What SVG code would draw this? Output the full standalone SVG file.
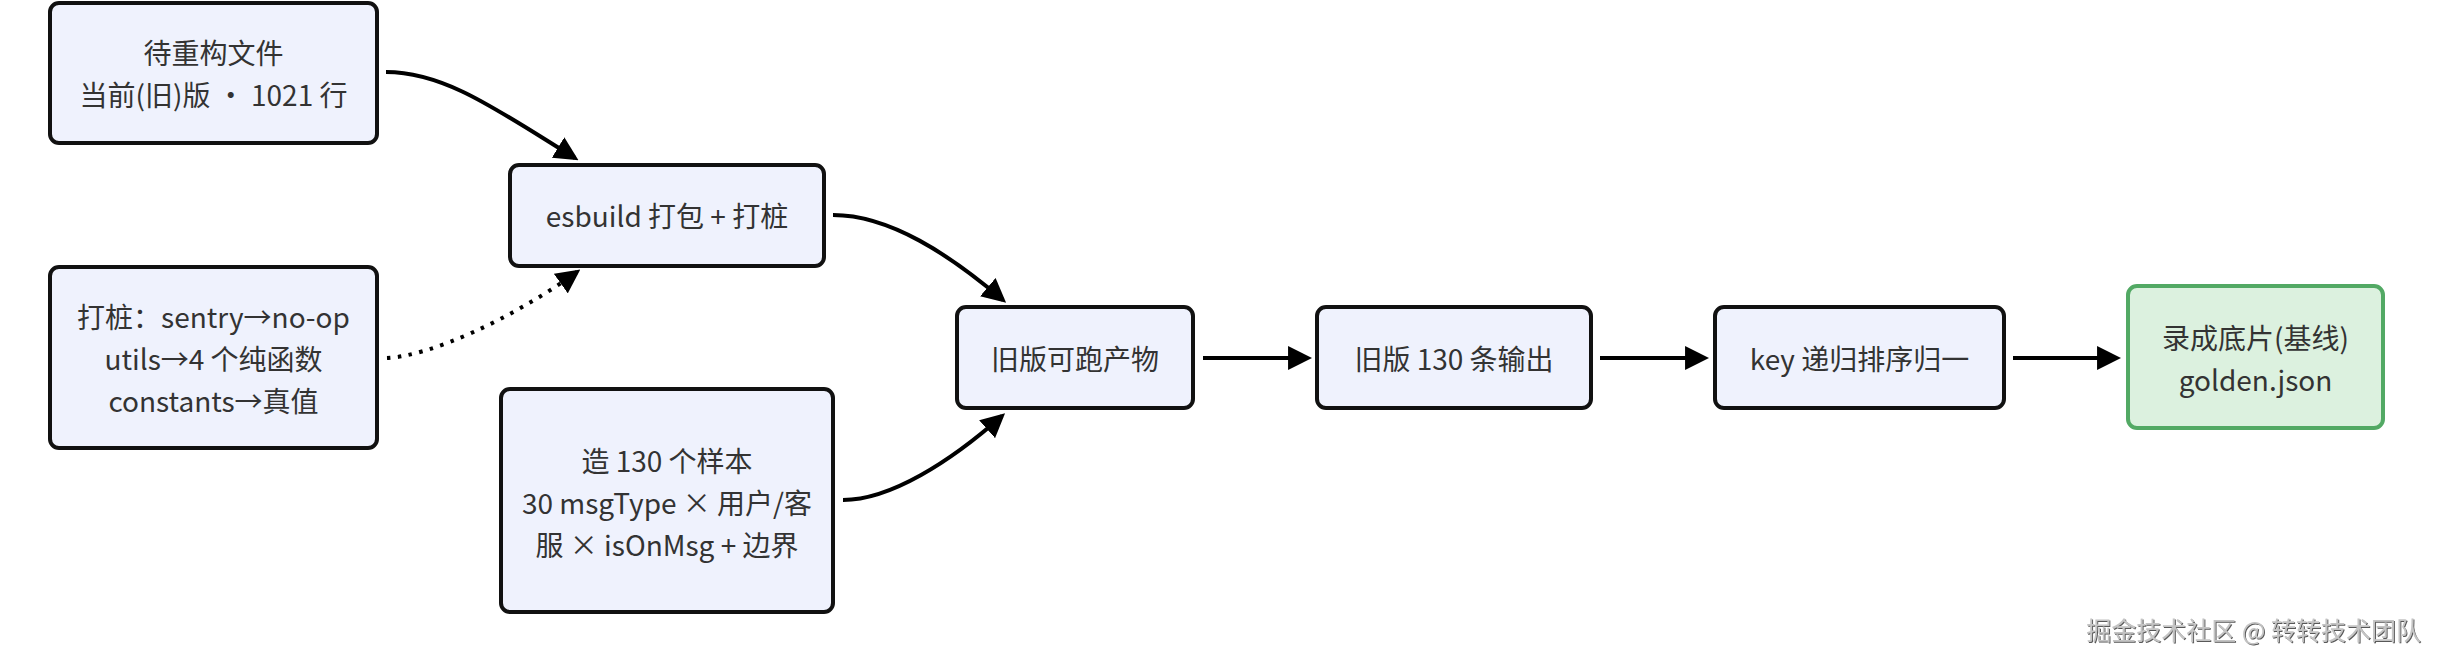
<svg xmlns="http://www.w3.org/2000/svg" width="2441" height="664" viewBox="0 0 2441 664">
<style>
  .node rect { fill: #eff2fd; stroke: #111; stroke-width: 4; }
  .node.green rect { fill: #dcf1df; stroke: #52a964; }
  .node text { font-family: "Noto Sans CJK SC", "Noto Sans", sans-serif; font-size: 28px; fill: #333; text-anchor: middle; dominant-baseline: central; }
  .edge { fill: none; stroke: #000; stroke-width: 4; marker-end: url(#arrow); }
  .dotted { stroke-dasharray: 3.5 7.5; }
  .wm { font-family: "Noto Sans CJK SC", sans-serif; font-size: 25px; fill: #c4c4c4; text-anchor: end; filter: url(#emboss); }
</style>
<defs>
  <marker id="arrow" viewBox="0 0 10 10" refX="8.3" refY="5" markerUnits="userSpaceOnUse" markerWidth="24" markerHeight="24" orient="auto">
    <path d="M0,0 L10,5 L0,10 z" fill="#000"/>
  </marker>
  <filter id="emboss" x="-5%" y="-20%" width="110%" height="140%">
    <feDropShadow dx="1" dy="1" stdDeviation="0.4" flood-color="#444" flood-opacity="0.9"/>
  </filter>
</defs>
<rect x="0" y="0" width="2441" height="664" fill="#fff"/>

<g id="connectors">
  <path class="edge" d="M386,72 C446,72 500,112 575,158"/>
  <path class="edge dotted" d="M387,358 C430,356 510,320 577,272"/>
  <path class="edge" d="M833,215 C890,215 950,255 1003,300"/>
  <path class="edge" d="M843,500 C890,500 950,462 1002,416"/>
  <path class="edge" d="M1203,358 L1308,358"/>
  <path class="edge" d="M1600,358 L1705,358"/>
  <path class="edge" d="M2013,358 L2117,358"/>
</g>

<g id="node-src" class="node">
  <rect x="50" y="3" width="327" height="140" rx="9"/>
  <text x="213.5" y="52">待重构文件</text>
  <text x="213.5" y="94">当前(旧)版 · 1021 行</text>
</g>
<g id="node-stub" class="node">
  <rect x="50" y="267" width="327" height="181" rx="9"/>
  <text x="213.5" y="316">打桩：sentry→no-op</text>
  <text x="213.5" y="358">utils→4 个纯函数</text>
  <text x="213.5" y="400">constants→真值</text>
</g>
<g id="node-esbuild" class="node">
  <rect x="510" y="165" width="314" height="101" rx="9"/>
  <text x="667" y="215">esbuild 打包 + 打桩</text>
</g>
<g id="node-samples" class="node">
  <rect x="501" y="389" width="332" height="223" rx="9"/>
  <text x="667" y="460">造 130 个样本</text>
  <text x="667" y="502">30 msgType × 用户/客</text>
  <text x="667" y="544">服 × isOnMsg + 边界</text>
</g>
<g id="node-artifact" class="node">
  <rect x="957" y="307" width="236" height="101" rx="9"/>
  <text x="1075" y="357.5">旧版可跑产物</text>
</g>
<g id="node-output" class="node">
  <rect x="1317" y="307" width="274" height="101" rx="9"/>
  <text x="1454" y="357.5">旧版 130 条输出</text>
</g>
<g id="node-normalize" class="node">
  <rect x="1715" y="307" width="289" height="101" rx="9"/>
  <text x="1859.5" y="357.5">key 递归排序归一</text>
</g>
<g id="node-golden" class="node green">
  <rect x="2128" y="286" width="255" height="142" rx="9"/>
  <text x="2255.5" y="337">录成底片(基线)</text>
  <text x="2255.5" y="379">golden.json</text>
</g>

<text class="wm" x="2421" y="640">掘金技术社区 @ 转转技术团队</text>
</svg>
